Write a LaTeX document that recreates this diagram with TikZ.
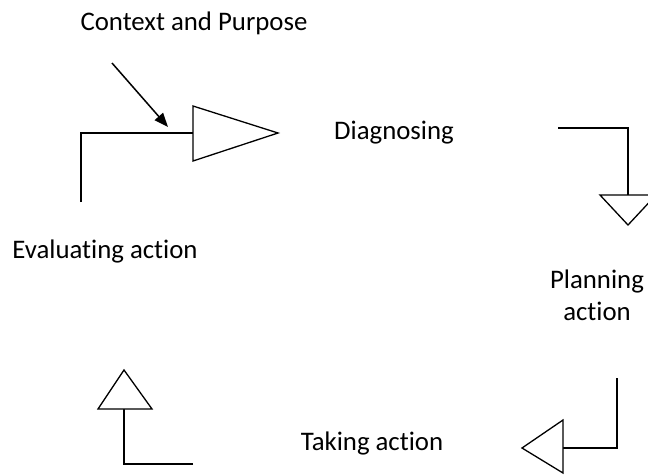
\documentclass[tikz,border=0pt]{standalone}
\usepackage{fontspec}
\setmainfont{Carlito}[Ligatures=CommonOff]
\usetikzlibrary{arrows.meta}
\begin{document}
\begin{tikzpicture}[x=1pt,y=-1pt,
  label/.style={anchor=base,inner sep=0pt,font=\fontsize{26.8}{32}\selectfont,align=center},
  elbow/.style={draw=black,line width=2pt,line join=miter},
  head/.style={draw=black,line width=1.3pt,fill=white,line join=miter},
  pointer/.style={draw=black,line width=1.5pt,-{Triangle[length=14pt,width=11pt]}}]
\useasboundingbox (0,0) rectangle (648,475);

% stage labels
\node[label] (context) at (194,30) {Context and Purpose};
\node[label] (diag) at (394,139) {Diagnosing};
\node[label] (eval) at (105,258) {Evaluating action};
\node[label] (plan) at (597,320) {Planning\\action};
\node[label] (take) at (372,450) {Taking action};

% top-left: Evaluating -> Diagnosing
\coordinate (a1) at (81,202);
\coordinate (a2) at (81,133);
\coordinate (a3) at (193,133);
\draw[elbow] (a1) -- (a2) -- (a3);
\draw[head] (193,106) -- (278,133) -- (193,161) -- cycle;

% incoming context arrow
\coordinate (c1) at (112,63);
\coordinate (c2) at (168,127);
\draw[pointer] (c1) -- (c2);

% top-right: Diagnosing -> Planning
\coordinate (b1) at (558,128);
\coordinate (b2) at (628,128);
\coordinate (b3) at (628,195);
\draw[elbow] (b1) -- (b2) -- (b3);
\draw[head] (600,195) -- (656,195) -- (628,225) -- cycle;

% bottom-right: Planning -> Taking action
\coordinate (d1) at (617,378);
\coordinate (d2) at (617,448);
\coordinate (d3) at (563,448);
\draw[elbow] (d1) -- (d2) -- (d3);
\draw[head] (563,420) -- (522,448) -- (563,473) -- cycle;

% bottom-left: Taking action -> Evaluating
\coordinate (e1) at (193,464);
\coordinate (e2) at (124,464);
\coordinate (e3) at (124,409);
\draw[elbow] (e1) -- (e2) -- (e3);
\draw[head] (98,409) -- (124,370) -- (152,409) -- cycle;
\end{tikzpicture}
\end{document}
